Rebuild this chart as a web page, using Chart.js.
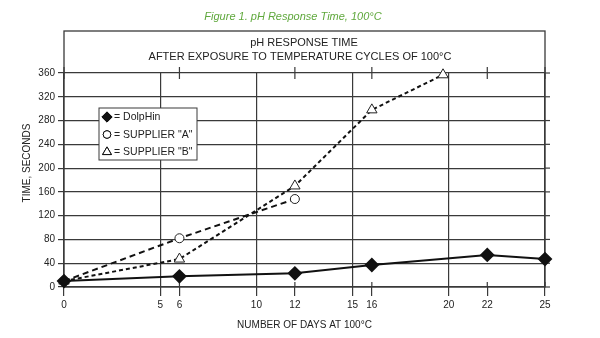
<!DOCTYPE html>
<html>
<head>
<meta charset="utf-8">
<script src="https://cdn.jsdelivr.net/npm/chart.js@4.4.1/dist/chart.umd.min.js"></script>
<style>
  html, body { margin: 0; padding: 0; background: #fff; }
  #wrap { position: relative; width: 600px; height: 338px; }
</style>
</head>
<body>
<div id="wrap"><canvas id="chart" width="600" height="338"></canvas></div>
<script>
const figureTitle = 'Figure 1. pH Response Time, 100°C';
const plotTitle = ['pH RESPONSE TIME', 'AFTER EXPOSURE TO TEMPERATURE CYCLES OF 100°C'];

const dolphinDays = [0, 6, 12, 16, 22, 25];
const dolphinTime = [10, 18, 23, 37, 54, 47];
const supplierADays = [0, 6, 12];
const supplierATime = [10, 82, 148];
const supplierBDays = [0, 6, 12, 16, 19.7];
const supplierBTime = [10, 47, 170, 298, 357];

const xTickValues = [0, 5, 6, 10, 12, 15, 16, 20, 22, 25];
const gridDays = [0, 5, 10, 15, 20, 25];
const markDays = [0, 6, 12, 16, 22, 25];

const ink = '#3a3a3a';
const font = '"Liberation Sans", Arial, sans-serif';

const pts = (xs, ys) => xs.map((x, i) => ({ x: x, y: ys[i] }));

// frame, titles, extra tick marks and legend
const decor = {
    id: 'decor',
    beforeDatasetsDraw(chart) {
        const ctx = chart.ctx;
        const a = chart.chartArea;
        const xs = chart.scales.x, ys = chart.scales.y;
        const frameTop = 31;
        ctx.save();
        ctx.strokeStyle = ink;
        ctx.lineWidth = 1.3;
        ctx.strokeRect(a.left, frameTop, a.right - a.left, a.bottom - frameTop);

        // short marks crossing top and bottom lines
        ctx.lineWidth = 1.2;
        markDays.forEach(d => {
            const x = xs.getPixelForValue(d);
            ctx.beginPath();
            ctx.moveTo(x, a.top - 6); ctx.lineTo(x, a.top + 6);
            ctx.moveTo(x, a.bottom - 5); ctx.lineTo(x, a.bottom);
            ctx.stroke();
        });
        ys.ticks.forEach(t => {
            const y = ys.getPixelForValue(t.value);
            ctx.beginPath();
            ctx.moveTo(a.right, y); ctx.lineTo(a.right + 5, y);
            ctx.stroke();
        });

        // titles
        ctx.fillStyle = '#5fa83c';
        ctx.font = 'italic 11px ' + font;
        ctx.textAlign = 'center';
        ctx.textBaseline = 'middle';
        ctx.fillText(figureTitle, 293, 17);
        ctx.fillStyle = '#222';
        ctx.font = '11px ' + font;
        ctx.fillText(plotTitle[0], 304, 43);
        ctx.fillText(plotTitle[1], 300, 57);

        ctx.save();
        ctx.translate(27, 163);
        ctx.rotate(-Math.PI / 2);
        ctx.font = '10px ' + font;
        ctx.fillText('TIME, SECONDS', 0, 0);
        ctx.restore();
        ctx.restore();
    },
    afterDraw(chart) {
        const ctx = chart.ctx;
        const lx = 99, ly = 108, lw = 98, lh = 52;
        ctx.save();
        ctx.fillStyle = '#fff';
        ctx.fillRect(lx, ly, lw, lh);
        ctx.strokeStyle = ink;
        ctx.lineWidth = 1;
        ctx.strokeRect(lx, ly, lw, lh);
        ctx.textAlign = 'left';
        ctx.textBaseline = 'middle';
        ctx.font = '10.5px ' + font;
        chart.data.datasets.forEach((ds, i) => {
            const y = ly + 9 + i * 17.5;
            Chart.helpers.drawPoint(ctx, {
                pointStyle: ds.pointStyle,
                radius: ds.pointRadius * 0.85,
                borderWidth: 1
            }, lx + 8, y);
            ctx.fillStyle = ds.pointBackgroundColor;
            ctx.strokeStyle = '#111';
            ctx.fill();
            ctx.stroke();
            ctx.fillStyle = '#222';
            ctx.fillText('= ' + ds.label, lx + 15, y + 0.5);
        });
        ctx.restore();
    }
};

new Chart(document.getElementById('chart'), {
    type: 'scatter',
    data: {
        datasets: [{
            label: 'DolpHin',
            data: pts(dolphinDays, dolphinTime),
            showLine: true,
            clip: false,
            borderColor: '#111',
            borderWidth: 2,
            pointStyle: 'rectRot',
            pointRadius: 6,
            pointBackgroundColor: '#111',
            pointBorderColor: '#111'
        }, {
            label: 'SUPPLIER "A"',
            data: pts(supplierADays, supplierATime),
            showLine: true,
            clip: false,
            borderColor: '#111',
            borderWidth: 2,
            borderDash: [6, 4],
            pointStyle: 'circle',
            pointRadius: 4.5,
            pointBorderWidth: 1,
            pointBackgroundColor: '#fff',
            pointBorderColor: '#222'
        }, {
            label: 'SUPPLIER "B"',
            data: pts(supplierBDays, supplierBTime),
            showLine: true,
            clip: false,
            borderColor: '#111',
            borderWidth: 2,
            borderDash: [4, 3],
            pointStyle: 'triangle',
            pointRadius: 6,
            pointBorderWidth: 1,
            pointBackgroundColor: '#fff',
            pointBorderColor: '#222'
        }]
    },
    options: {
        responsive: false,
        animation: false,
        layout: { padding: { top: 73, right: 55, left: 0, bottom: 0 } },
        plugins: {
            legend: { display: false },
            tooltip: { enabled: false }
        },
        scales: {
            x: {
                type: 'linear',
                min: 0,
                max: 25,
                afterBuildTicks: s => { s.ticks = xTickValues.map(v => ({ value: v })); },
                afterFit: s => { s.height = 51; },
                grid: {
                    color: c => gridDays.includes(c.tick.value) ? ink : 'rgba(0,0,0,0)',
                    tickColor: ink,
                    lineWidth: 1.2,
                    tickLength: 9
                },
                border: { display: false },
                ticks: {
                    autoSkip: false,
                    maxRotation: 0,
                    padding: 3,
                    color: '#222',
                    font: { family: font, size: 10 }
                },
                title: {
                    display: true,
                    text: 'NUMBER OF DAYS AT 100°C',
                    color: '#222',
                    font: { family: font, size: 10 },
                    padding: { top: 0, bottom: 7 }
                }
            },
            y: {
                min: 0,
                max: 360,
                afterFit: s => { s.width = 64; },
                ticks: {
                    stepSize: 40,
                    padding: 3,
                    color: '#222',
                    font: { family: font, size: 10 }
                },
                grid: {
                    color: ink,
                    lineWidth: 1.2,
                    tickLength: 6
                },
                border: { display: false }
            }
        }
    },
    plugins: [decor]
});
</script>
</body>
</html>
